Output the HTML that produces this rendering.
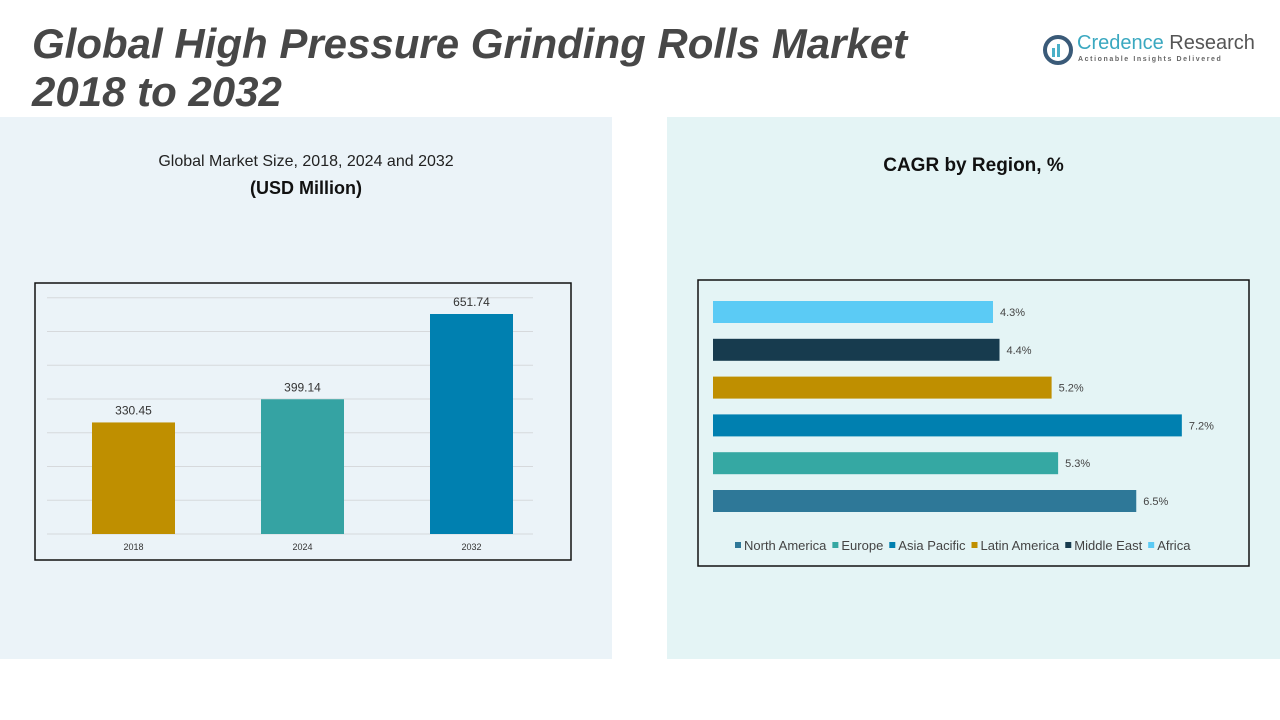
<!DOCTYPE html>
<html><head><meta charset="utf-8"><style>
body{margin:0;width:1280px;height:720px;background:#fff;position:relative;overflow:hidden;font-family:"Liberation Sans",sans-serif}
.abs{position:absolute}
</style></head><body>
<div class="abs" style="left:0;top:117px;width:612px;height:542px;background:#ebf3f8"></div>
<div class="abs" style="left:667px;top:117px;width:613px;height:542px;background:#e4f4f5"></div>
<div class="abs" style="left:32px;top:20px;font-size:42px;font-weight:bold;font-style:italic;color:#474747;line-height:48px;white-space:nowrap">Global High Pressure Grinding Rolls Market<br>2018 to 2032</div>
<div class="abs" style="left:1040px;top:32px;width:230px;height:36px;white-space:nowrap">
<svg width="32" height="32" style="position:absolute;left:2px;top:2px"><circle cx="16" cy="16" r="13" fill="none" stroke="#3a5a78" stroke-width="4"/><rect x="10" y="14" width="3" height="9" fill="#4ab0c8"/><rect x="15" y="10" width="3" height="13" fill="#4ab0c8"/></svg>
<div style="position:absolute;left:37px;top:0;font-size:20px;color:#3aa8c0">Credence <span style="color:#555">Research</span></div>
<div style="position:absolute;left:38px;top:24px;font-size:7px;letter-spacing:1.6px;color:#666;font-weight:bold">Actionable Insights Delivered</div>
</div>
<div class="abs" style="left:0;width:612px;top:153px;text-align:center;font-size:16px;color:#222">Global Market Size, 2018, 2024 and 2032</div>
<div class="abs" style="left:0;width:612px;top:178px;text-align:center;font-size:18px;font-weight:bold;color:#111">(USD Million)</div>
<div class="abs" style="left:667px;width:613px;top:155px;text-align:center;font-size:19px;font-weight:bold;color:#111">CAGR by Region, %</div>
<svg class="abs" style="left:0;top:0" width="1280" height="720">
<rect x="35" y="283" width="536" height="277" fill="none" stroke="#111" stroke-width="1.5"/>
<g id="left"></g>
<rect x="698" y="280" width="551" height="286" fill="none" stroke="#111" stroke-width="1.5"/>
<g id="right"></g>
</svg>
<script>
const years=["2018","2024","2032"];
const sizes=[330.45,399.14,651.74];
const yearColors=["#bf8f00","#35a3a3","#0080b0"];
const regions=["North America","Europe","Asia Pacific","Latin America","Middle East","Africa"];
const cagr=[6.5,5.3,7.2,5.2,4.4,4.3];
const regionColors=["#2e7898","#35a8a3","#0080b0","#bf8f00","#173b4e","#5bcbf5"];
const NS="http://www.w3.org/2000/svg";
function mk(t,a,p){const e=document.createElementNS(NS,t);for(const k in a)e.setAttribute(k,a[k]);p.appendChild(e);return e;}
const L=document.getElementById('left');
const base=534,pxu=220/651.74,x0=47,x1=533;
const y=v=>base-v*pxu;
for(let g=0;g<=700;g+=100){const l=mk('line',{x1:x0,x2:x1,y1:y(g),y2:y(g),stroke:'#d6d9dc'},L);

}
const px0=49,band=169,bw=83;
years.forEach((yr,i)=>{const cx=px0+band*(i+0.5);
const r=mk('rect',{x:cx-bw/2,y:y(sizes[i]),width:bw,height:sizes[i]*pxu,fill:yearColors[i]},L);


const t=mk('text',{x:cx,y:y(sizes[i])-8,'text-anchor':'middle','font-size':12,fill:'#333'},L);t.textContent=sizes[i].toFixed(2);


const a=mk('text',{x:cx,y:550,'text-anchor':'middle','font-size':9,fill:'#333'},L);a.textContent=yr;

});
const R=document.getElementById('right');
const rx0=713,rpx=280/4.3,top0=312,step=37.8,bh=22;
regions.forEach((rg,i)=>{const cy=top0+(regions.length-1-i)*step;const w=cagr[i]*rpx;
const r=mk('rect',{x:rx0,y:cy-bh/2,width:w,height:bh,fill:regionColors[i]},R);


const t=mk('text',{x:rx0+w+7,y:cy+4,'font-size':11,fill:'#444'},R);t.textContent=cagr[i].toFixed(1)+'%';

});
let lx=735;
regions.forEach((rg,i)=>{const s=mk('rect',{x:lx,y:542,width:6,height:6,fill:regionColors[i]},R);


const t=mk('text',{x:lx+9,y:550,'font-size':13,fill:'#444'},R);t.textContent=rg;


lx+=9+t.getComputedTextLength()+6;});
</script>
</body></html>
